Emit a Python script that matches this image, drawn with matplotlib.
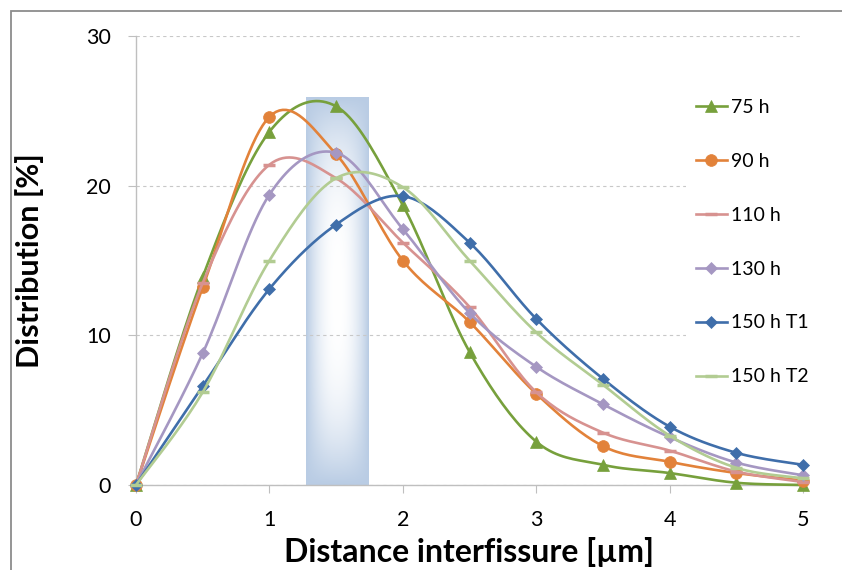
import numpy as np
import matplotlib
matplotlib.use("Agg")
import matplotlib.pyplot as plt
from matplotlib.patches import Rectangle

# Données
distance = [0, 0.5, 1, 1.5, 2, 2.5, 3, 3.5, 4, 4.5, 5]
d75 = [0, 13.9, 23.6, 25.3, 18.7, 8.9, 2.9, 1.35, 0.8, 0.15, 0.0]
d90 = [0, 13.2, 24.6, 22.1, 15.0, 10.9, 6.1, 2.6, 1.55, 0.8, 0.3]
d110 = [0, 13.5, 21.4, 20.5, 16.2, 11.9, 6.2, 3.5, 2.3, 0.9, 0.2]
d130 = [0, 8.8, 19.4, 22.2, 17.1, 11.5, 7.9, 5.4, 3.2, 1.5, 0.65]
d150_t1 = [0, 6.6, 13.1, 17.4, 19.3, 16.2, 11.1, 7.1, 3.9, 2.15, 1.35]
d150_t2 = [0, 6.2, 15.0, 20.5, 19.9, 15.0, 10.2, 6.7, 3.3, 1.15, 0.45]
labels = ["75 h", "90 h", "110 h", "130 h", "150 h T1", "150 h T2"]

# zone grisée (bande bleue)
band_x = (1.275, 1.74)
band_top = 25.9

colors = ["#77A03C", "#E2823A", "#D79290", "#A597C2", "#3F6EAA", "#B2CC92"]
markers = ["^", "o", "_", "D", "D", "_"]
msizes = [8.5, 8.5, 9, 6.5, 6.5, 9]

plt.rcParams["font.family"] = ["Lato", "DejaVu Sans"]

K = 20  # points par segment


def smooth(xs, ys):
    """ Courbe lissée type Excel (Catmull-Rom -> Bezier). """
    P = np.column_stack([xs, ys]).astype(float)
    n = len(P)
    out = []
    t = np.linspace(0, 1, K, endpoint=False)[:, None]
    for i in range(n - 1):
        p0 = P[max(i - 1, 0)]
        p1 = P[i]
        p2 = P[i + 1]
        p3 = P[min(i + 2, n - 1)]
        c1 = p1 + (p2 - p0) / 6
        c2 = p2 - (p3 - p1) / 6
        seg = ((1 - t) ** 3) * p1 + 3 * ((1 - t) ** 2) * t * c1 + 3 * (1 - t) * t ** 2 * c2 + t ** 3 * p2
        out.append(seg)
    out.append(P[-1:])
    out = np.vstack(out)
    return out[:, 0], out[:, 1]


fig = plt.figure(figsize=(8.42, 5.70), dpi=100)
ax = fig.add_axes([136 / 842, 1 - 485 / 570, (803 - 136) / 842, (485 - 36) / 570])

# bande en dégradé
nx, ny = 60, 200
u = np.abs(np.linspace(-1, 1, nx))[None, :]
v = np.abs(np.linspace(-1, 1, ny))[:, None]
white = (1 - u ** 2.2) * (1 - v ** 2.8)
blue = np.array([0xB9, 0xCC, 0xE4]) / 255.0
img = np.ones((ny, nx, 3)) * blue + white[:, :, None] * (1 - blue)
ax.imshow(img, extent=[band_x[0], band_x[1], 0, band_top], aspect="auto", origin="lower", zorder=0.3)

series = [d75, d90, d110, d130, d150_t1, d150_t2]
for ys, lab, c, m, ms in zip(series, labels, colors, markers, msizes):
    sx, sy = smooth(distance, ys)
    ax.plot(sx, sy, color=c, lw=1.9, marker=m, ms=ms, markevery=K,
            mew=2.5 if m == "_" else 0.5, mec=c, mfc=c, label=lab, clip_on=False, zorder=3)

ax.set_xlim(0, 5)
ax.set_ylim(0, 30)
ax.set_xticks(range(0, 6))
ax.set_yticks([0, 10, 20, 30])
ax.grid(axis="y", color="#C8C8C8", linestyle=(0, (3, 3)), lw=0.8)
ax.set_axisbelow(True)
for s in ["top", "right"]:
    ax.spines[s].set_visible(False)
for s in ["left", "bottom"]:
    ax.spines[s].set_color("#BFBFBF")
    ax.spines[s].set_linewidth(1.0)
ax.tick_params(axis="both", direction="out", length=6, color="#BFBFBF", labelsize=15.5, pad=12)
ax.set_xlabel("Distance interfissure [µm]", fontsize=23, fontweight="bold", labelpad=5)
ax.set_ylabel("Distribution [%]", fontsize=22, fontweight="bold", labelpad=30)

leg = ax.legend(loc="upper left", bbox_to_anchor=(686 / 842, 1 - 89 / 570), bbox_transform=fig.transFigure,
                fontsize=14, frameon=True, facecolor="white", edgecolor="none", framealpha=1,
                handlelength=1.6, handletextpad=0.2, labelspacing=1.90, borderpad=0.5, borderaxespad=0)
leg.set_zorder(5)

# cadre extérieur
fig.patches.append(Rectangle((11 / 842, -0.05), 1.0, 1 - 11 / 570 + 0.05, transform=fig.transFigure,
                             fill=False, edgecolor="#8C8C8C", lw=1.3))

fig.savefig("out.png", dpi=100)
